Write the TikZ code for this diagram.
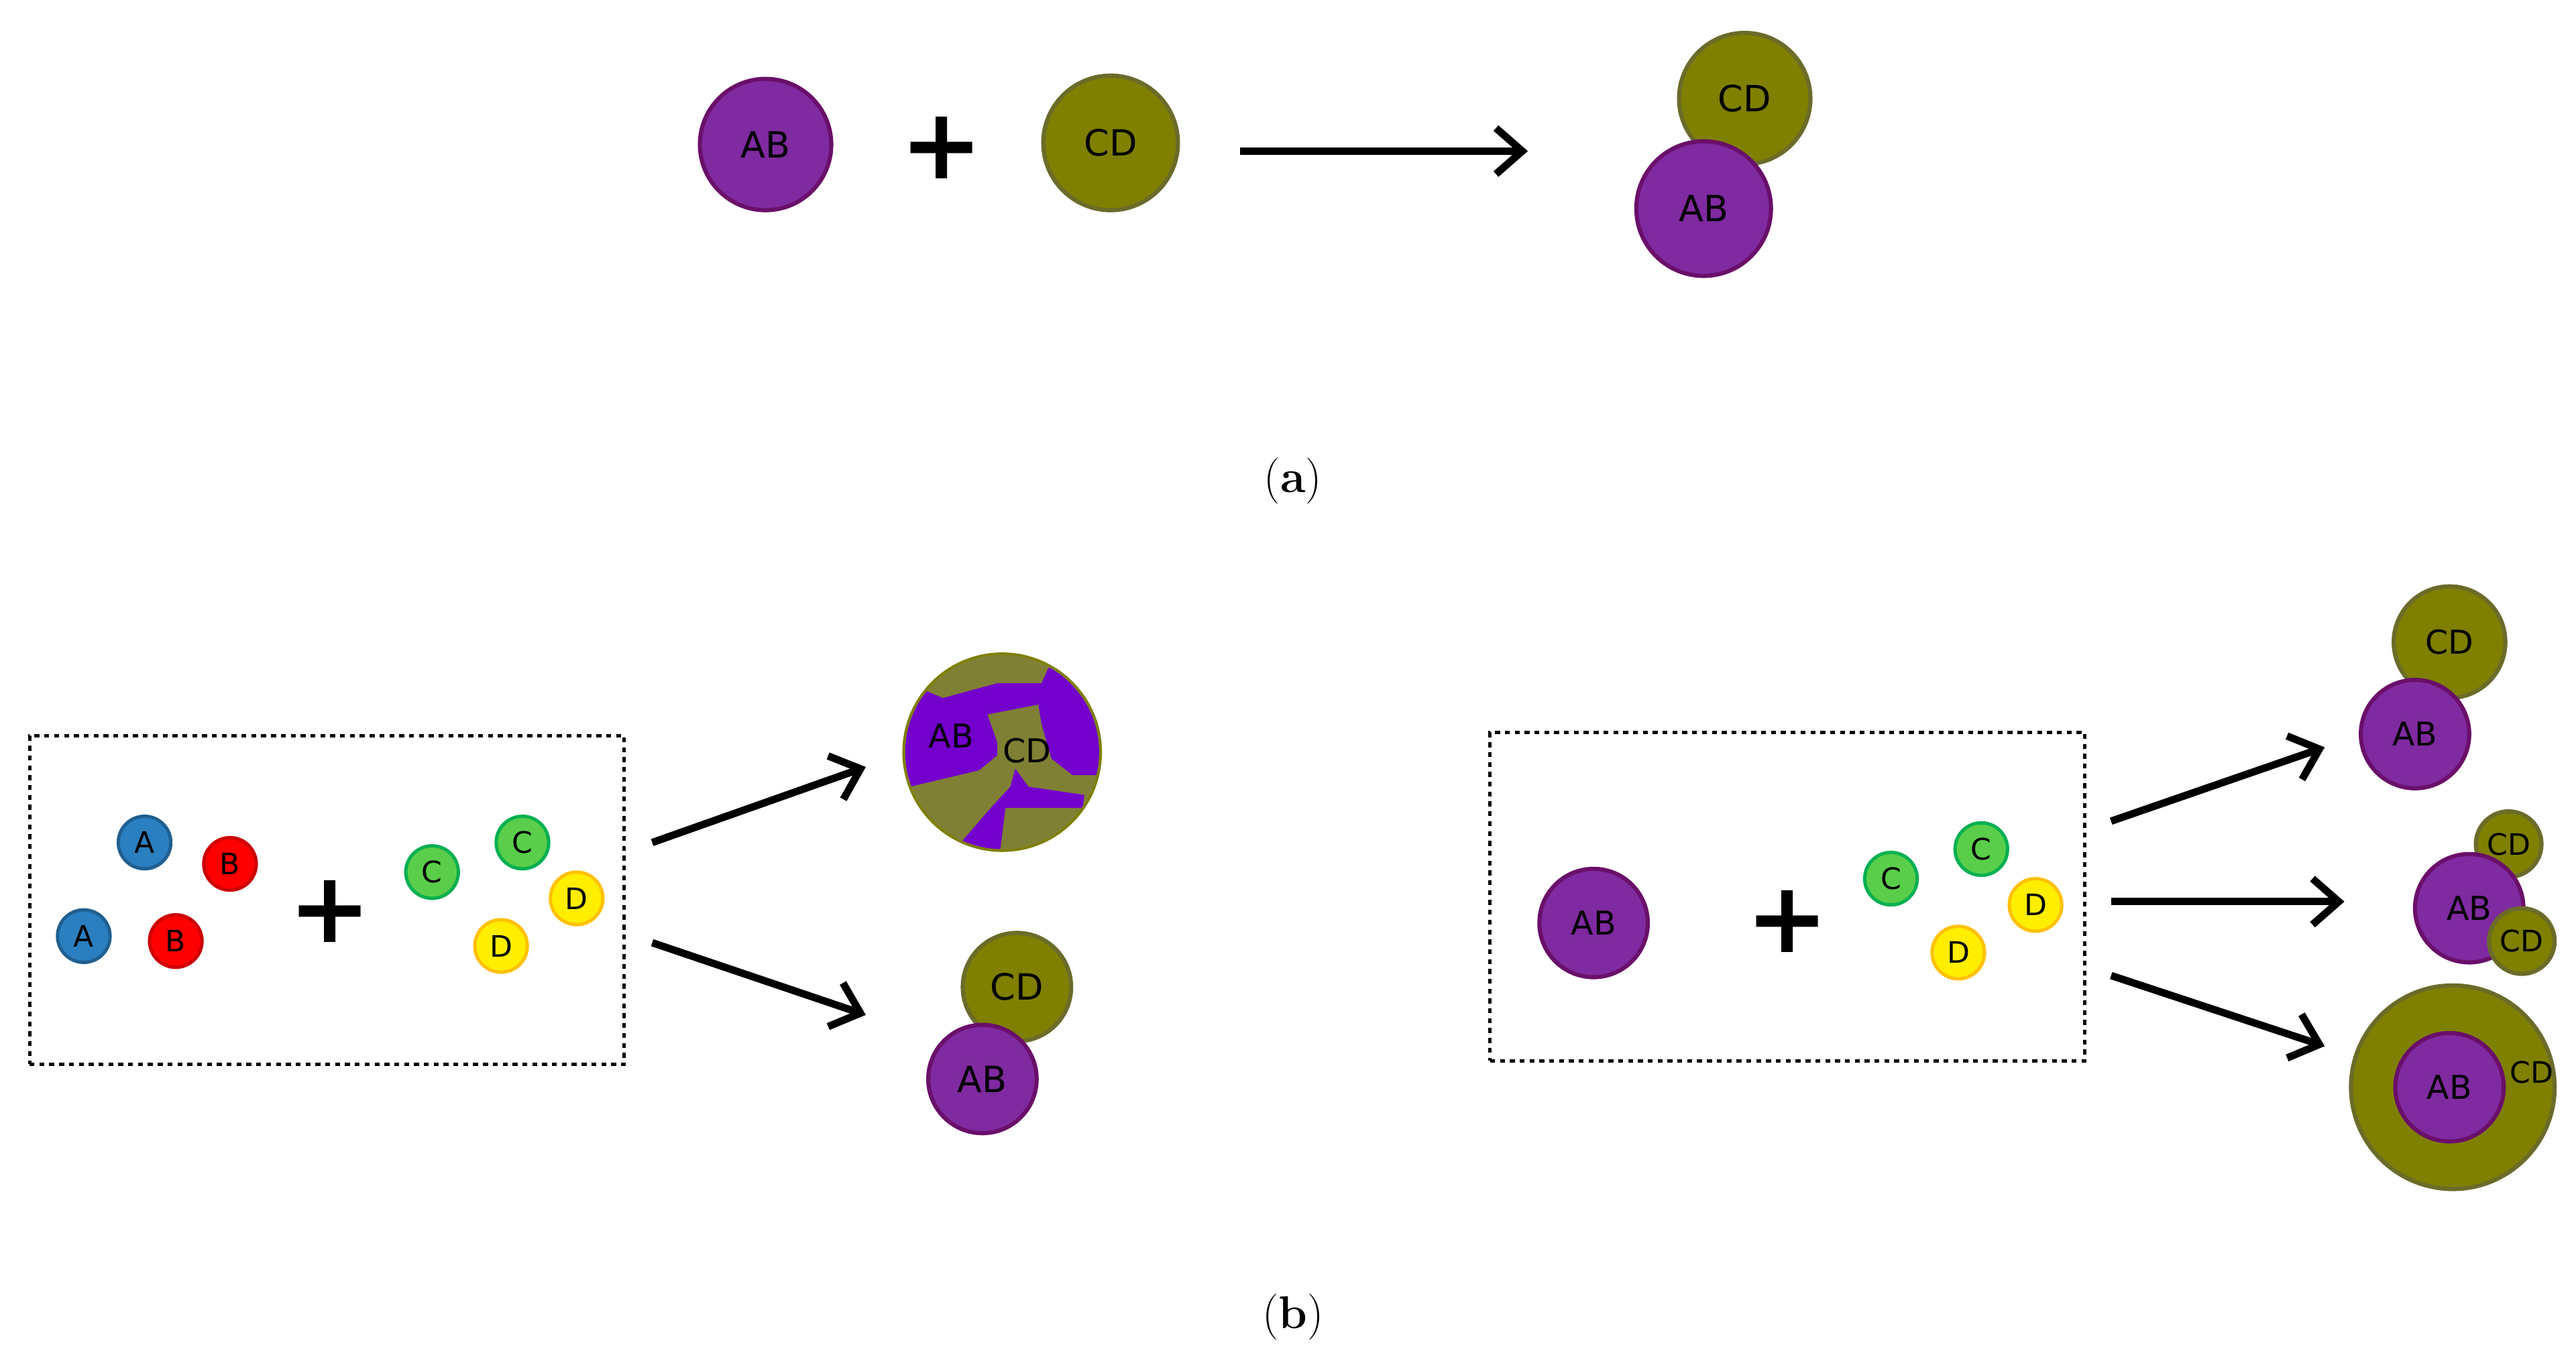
\documentclass[tikz,border=0pt]{standalone}
\usepackage{fontspec}
\setmainfont{DejaVu Sans}
\newfontfamily\capfont{Latin Modern Roman}
\usetikzlibrary{arrows.meta}
\definecolor{abfill}{HTML}{7F2AA0}
\definecolor{abline}{HTML}{6A0F6A}
\definecolor{cdfill}{HTML}{7F7F00}
\definecolor{cdline}{HTML}{6B6B2A}
\definecolor{mixab}{HTML}{7300CC}
\definecolor{mixcd}{HTML}{808035}
\definecolor{afill}{HTML}{2A7FC0}
\definecolor{aline}{HTML}{1F5F90}
\definecolor{cfill}{HTML}{5ACE4A}
\definecolor{cline}{HTML}{00B050}
\definecolor{dfill}{HTML}{FFEE00}
\definecolor{dline}{HTML}{FFC000}
\tikzset{
  big/.style={circle, inner sep=0pt, line width=2.5pt, font=\fontsize{22}{26}\selectfont},
  ab/.style={big, fill=abfill, draw=abline},
  cd/.style={big, fill=cdfill, draw=cdline},
  atom/.style={circle, inner sep=0pt, minimum size=32pt, line width=2pt, font=\fontsize{18}{22}\selectfont},
  atA/.style={atom, fill=afill, draw=aline},
  atB/.style={atom, fill=red, draw=red!80!black},
  atC/.style={atom, fill=cfill, draw=cline},
  atD/.style={atom, fill=dfill, draw=dline},
  plus/.style={font=\fontsize{60}{60}\selectfont\bfseries},
  react/.style={line width=4.5pt, -{Straight Barb[length=16pt, width=28pt, line width=4.5pt]}},
  mixture/.style={draw, dashed, line width=2pt},
  caption/.style={font=\capfont\fontsize{28}{32}\selectfont}
}
\begin{document}
\begin{tikzpicture}[x=1pt, y=-1pt]
\useasboundingbox (0,0) rectangle (1568,831);

%PART A
\node[ab, minimum size=80pt] (ab1) at (466,88) {AB};
\node[plus] (p1) at (573,90) {+};
\node[cd, minimum size=82pt] (cd1) at (676,87) {CD};
\coordinate (r1s) at (755,92);
\coordinate (r1e) at (930,92);
\draw[react] (r1s) -- (r1e);
\node[cd, minimum size=80pt] (cd2) at (1062,60) {CD};
\node[ab, minimum size=82pt] (ab2) at (1037,127) {AB};
\node[caption] (capa) at (787,293) {(\textbf{a})};

%PART B LEFT
\node[mixture, minimum width=362pt, minimum height=200pt] (box1) at (199,548) {};
\node[atA] (a1) at (88,513) {A};
\node[atB] (b1) at (140,526) {B};
\node[atA] (a2) at (51,570) {A};
\node[atB] (b2) at (107,573) {B};
\node[plus] (p2) at (201,555) {+};
\node[atC] (c1) at (263,531) {C};
\node[atC] (c2) at (318,513) {C};
\node[atD] (d1) at (351,547) {D};
\node[atD] (d2) at (305,576) {D};
\coordinate (l1s) at (397,513);
\coordinate (l1e) at (527,467);
\coordinate (l2s) at (397,574);
\coordinate (l2e) at (527,618);
\draw[react] (l1s) -- (l1e);
\draw[react] (l2s) -- (l2e);
%mixed particle
\node[circle, minimum size=120pt, inner sep=0pt] (mix) at (610,458) {};
\begin{scope}[shift={(mix.center)}]
  \fill[mixcd] (0,0) circle (60);
  \begin{scope}
    \clip (0,0) circle (59);
    \fill[mixab] (-60,-35) -- (-48,-38) -- (-36,-33) -- (-3,-42) -- (24,-42) -- (28,-51)
      -- (43,-60) -- (70,-1) -- (57,14) -- (43,14) -- (30,4) -- (24,-17) -- (22,-29)
      -- (-9,-23) -- (-3,-6) -- (-3,2) -- (-14,11) -- (-56,21) -- (-70,7) -- cycle;
    \fill[mixab] (8,10) -- (16,21) -- (50,26) -- (49,34) -- (2,34) -- (-2,66)
      -- (-26,56) -- (-7,34) -- (5,21) -- cycle;
  \end{scope}
  \draw[cdfill, line width=1.5pt] (0,0) circle (60);
  \node[font=\fontsize{20}{24}\selectfont] (mixab) at (-31,-10) {AB};
  \node[font=\fontsize{20}{24}\selectfont] (mixcd) at (15,-1) {CD};
\end{scope}
\node[cd, minimum size=66pt] (cd3) at (619,601) {CD};
\node[ab, minimum size=66pt] (ab3) at (598,657) {AB};

%PART B RIGHT
\node[mixture, minimum width=362pt, minimum height=200pt] (box2) at (1088,546) {};
\node[ab, minimum size=66pt, font=\fontsize{20}{24}\selectfont] (ab4) at (970,562) {AB};
\node[plus] (p3) at (1088,561) {+};
\node[atC] (c3) at (1151,535) {C};
\node[atC] (c4) at (1206,517) {C};
\node[atD] (d3) at (1239,551) {D};
\node[atD] (d4) at (1192,580) {D};
\coordinate (q1s) at (1285,500);
\coordinate (q1e) at (1415,455);
\coordinate (q2s) at (1285,549);
\coordinate (q2e) at (1427,549);
\coordinate (q3s) at (1285,594);
\coordinate (q3e) at (1415,637);
\draw[react] (q1s) -- (q1e);
\draw[react] (q2s) -- (q2e);
\draw[react] (q3s) -- (q3e);
\node[cd, minimum size=68pt, font=\fontsize{20}{24}\selectfont] (cd4) at (1491,391) {CD};
\node[ab, minimum size=66pt, font=\fontsize{20}{24}\selectfont] (ab5) at (1470,447) {AB};
\node[cd, minimum size=40pt, font=\fontsize{18}{22}\selectfont] (cd5) at (1527,514) {CD};
\node[ab, minimum size=66pt, font=\fontsize{20}{24}\selectfont] (ab6) at (1503,553) {AB};
\node[cd, minimum size=40pt, font=\fontsize{18}{22}\selectfont] (cd6) at (1535,573) {CD};
\node[cd, minimum size=124pt] (shell) at (1493,662) {};
\node[ab, minimum size=66pt, font=\fontsize{20}{24}\selectfont] (ab7) at (1491,662) {AB};
\node[font=\fontsize{18}{22}\selectfont] (shellcd) at (1541,653) {CD};
\node[caption] (capb) at (787,802) {(\textbf{b})};
\end{tikzpicture}
\end{document}
